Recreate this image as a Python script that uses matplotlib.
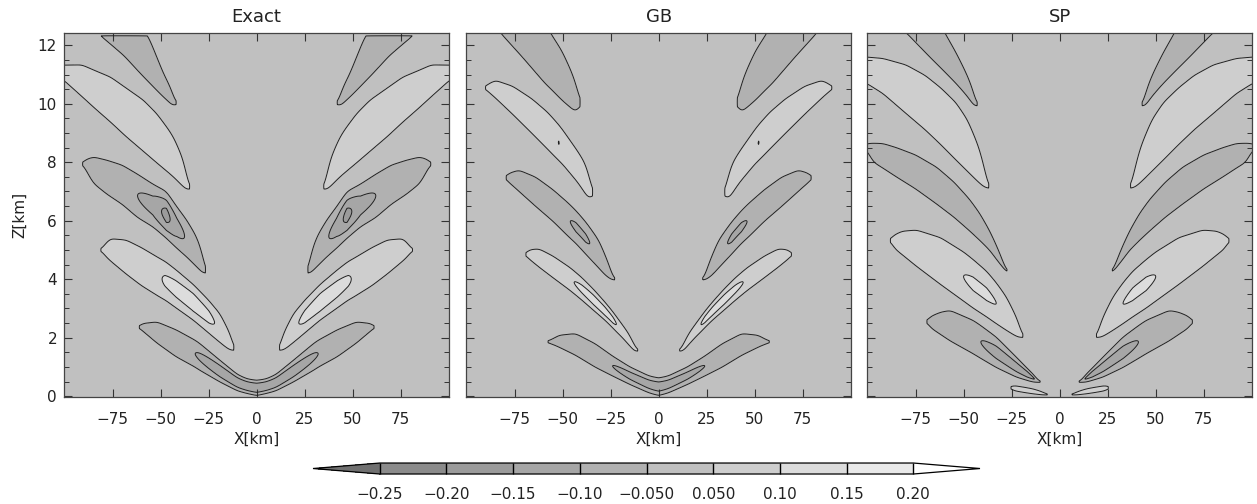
import numpy as np
import matplotlib.pyplot as plt
from matplotlib.colors import ListedColormap, BoundaryNorm

# ==============================
# Wave lobes, left half (the right half is the mirror image x -> -x)
# each row: x [km], lobe centre z [km], vertical half-thickness [km], peak amplitude
# ==============================
exact_upper_neg = [(-84, 12.9, 0.30, -0.07), (-81.5, 12.52, 0.18, -0.07), (-75, 12.39, 0.41, -0.07),
                   (-69, 12.27, 0.63, -0.07), (-60, 11.8, 0.80, -0.07), (-56.3, 11.52, 0.77, -0.07),
                   (-52, 11.03, 0.57, -0.07), (-48.5, 10.63, 0.40, -0.07), (-45, 10.3, 0.28, -0.07),
                   (-43.3, 10.09, 0.18, -0.07), (-42.5, 10.02, 0.08, -0.07), (-42, 10.0, 0.005, -0.07)]
exact_upper_pos = [(-101, 11.08, 0.24, 0.09), (-91, 10.79, 0.54, 0.09), (-84, 10.48, 0.65, 0.09),
                   (-76, 10.14, 0.77, 0.09), (-68, 9.71, 0.83, 0.09), (-59, 9.25, 0.875, 0.09),
                   (-52, 8.82, 0.84, 0.09), (-46, 8.39, 0.74, 0.09), (-43, 8.15, 0.67, 0.09),
                   (-40, 7.82, 0.54, 0.09), (-38, 7.6, 0.45, 0.09), (-36.5, 7.31, 0.24, 0.085),
                   (-35.5, 7.15, 0.11, 0.08), (-35, 7.1, 0.005, 0.08)]
exact_mid_neg = [(-90.5, 7.95, 0.005, -0.085), (-90.2, 7.95, 0.07, -0.085), (-89.8, 7.955, 0.115, -0.085),
                 (-88, 7.87, 0.24, -0.085), (-85, 7.73, 0.45, -0.09), (-78, 7.49, 0.58, -0.09),
                 (-70, 7.23, 0.67, -0.09), (-62, 6.85, 0.74, -0.10), (-54, 6.52, 0.73, -0.118),
                 (-47, 6.2, 0.80, -0.168), (-41.6, 5.77, 0.71, -0.118), (-36.4, 5.39, 0.63, -0.095),
                 (-31.2, 4.93, 0.51, -0.09), (-27.7, 4.48, 0.29, -0.085), (-26.9, 4.25, 0.06, -0.08),
                 (-26.6, 4.22, 0.005, -0.08)]
exact_low_pos = [(-81, 5.0, 0.005, 0.085), (-80.5, 5.0, 0.07, 0.085), (-78, 5.0, 0.26, 0.085),
                 (-76.3, 5.01, 0.375, 0.085), (-68, 4.76, 0.58, 0.09), (-60, 4.43, 0.65, 0.09),
                 (-50, 4.03, 0.66, 0.097), (-47.7, 3.95, 0.66, 0.106), (-42, 3.67, 0.65, 0.117),
                 (-33, 3.21, 0.61, 0.125), (-25, 2.72, 0.56, 0.112), (-22.5, 2.55, 0.53, 0.102),
                 (-19, 2.32, 0.49, 0.09), (-15, 1.95, 0.33, 0.085), (-13, 1.79, 0.23, 0.08),
                 (-12.1, 1.6, 0.05, 0.08), (-11.8, 1.58, 0.005, 0.08)]
exact_low_neg = [(-61.2, 2.36, 0.005, -0.075), (-60.5, 2.37, 0.08, -0.075), (-59.8, 2.365, 0.115, -0.075),
                 (-57, 2.3, 0.20, -0.075), (-52, 2.18, 0.36, -0.08), (-42, 1.81, 0.46, -0.09),
                 (-32, 1.45, 0.46, -0.10), (-30, 1.36, 0.46, -0.105), (-19, 0.85, 0.37, -0.13),
                 (-10, 0.46, 0.28, -0.14), (-5, 0.34, 0.25, -0.145), (0, 0.28, 0.26, -0.148)]

gb_upper_neg = [(-84, 12.9, 0.30, -0.075), (-82.3, 12.91, 0.49, -0.075), (-71, 12.6, 1.0, -0.075),
                (-58.9, 11.7, 1.02, -0.075), (-56.3, 11.47, 0.95, -0.075), (-50.3, 10.96, 0.84, -0.075),
                (-45, 10.43, 0.61, -0.075), (-43.3, 10.22, 0.48, -0.075), (-41.6, 10.08, 0.28, -0.075),
                (-41, 10.0, 0.08, -0.075), (-40.8, 10.0, 0.005, -0.075)]
gb_upper_pos = [(-90.2, 10.55, 0.005, 0.09), (-89.8, 10.55, 0.10, 0.09), (-88.4, 10.54, 0.14, 0.09),
                (-85, 10.5, 0.30, 0.09), (-76, 10.12, 0.48, 0.09), (-66, 9.58, 0.59, 0.09),
                (-58, 9.09, 0.63, 0.092), (-54, 8.81, 0.62, 0.095), (-52, 8.67, 0.61, 0.1006),
                (-50, 8.52, 0.59, 0.095), (-42, 7.83, 0.53, 0.09), (-38, 7.42, 0.51, 0.09),
                (-36.4, 7.15, 0.40, 0.09), (-34.7, 6.98, 0.17, 0.085), (-34.3, 6.9, 0.005, 0.085)]
gb_mid_neg = [(-79.4, 7.48, 0.005, -0.085), (-78.9, 7.47, 0.13, -0.085), (-77, 7.45, 0.19, -0.085),
              (-72.8, 7.37, 0.36, -0.085), (-64, 6.99, 0.50, -0.085), (-55, 6.52, 0.54, -0.088),
              (-47, 6.03, 0.57, -0.098), (-43, 5.78, 0.56, -0.106), (-38, 5.41, 0.55, -0.105),
              (-35, 5.17, 0.52, -0.098), (-31, 4.84, 0.47, -0.088), (-27.7, 4.46, 0.33, -0.085),
              (-26, 4.29, 0.24, -0.085), (-24.5, 4.09, 0.11, -0.08), (-23.3, 3.98, 0.02, -0.08),
              (-23, 3.98, 0.005, -0.08)]
gb_low_pos = [(-69, 4.85, 0.005, 0.085), (-68.5, 4.85, 0.12, 0.085), (-67.6, 4.85, 0.15, 0.085),
              (-62.4, 4.73, 0.31, 0.085), (-55, 4.42, 0.37, 0.09), (-46, 4.0, 0.39, 0.095),
              (-40, 3.67, 0.385, 0.11), (-34, 3.3, 0.36, 0.12), (-28, 2.91, 0.31, 0.12),
              (-24, 2.62, 0.28, 0.112), (-22, 2.46, 0.26, 0.10), (-19, 2.23, 0.22, 0.09),
              (-15.6, 1.95, 0.19, 0.085), (-12.1, 1.59, 0.09, 0.08), (-11.3, 1.55, 0.02, 0.08),
              (-11, 1.55, 0.005, 0.08)]
gb_low_neg = [(-57.6, 1.86, 0.005, -0.07), (-57.2, 1.86, 0.06, -0.07), (-55.5, 1.86, 0.08, -0.07),
              (-52, 1.88, 0.20, -0.075), (-43.3, 1.77, 0.37, -0.08), (-33, 1.39, 0.40, -0.09),
              (-24, 1.03, 0.34, -0.10), (-15, 0.7, 0.30, -0.115), (-5, 0.4, 0.29, -0.125),
              (0, 0.32, 0.30, -0.13)]

sp_upper_neg = [(-81, 12.9, 0.40, -0.07), (-79.7, 12.81, 0.39, -0.07), (-67.6, 12.5, 0.90, -0.07),
                (-59.8, 11.76, 0.67, -0.07), (-53.7, 11.2, 0.52, -0.07), (-48.5, 10.66, 0.37, -0.07),
                (-45, 10.22, 0.24, -0.07), (-44, 10.01, 0.14, -0.07), (-43.3, 9.95, 0.04, -0.07),
                (-43, 9.95, 0.005, -0.07)]
sp_upper_pos = [(-101, 11.16, 0.44, 0.09), (-92, 10.95, 0.60, 0.09), (-80, 10.5, 0.83, 0.09),
                (-70, 10.04, 0.93, 0.09), (-62, 9.58, 0.97, 0.09), (-54, 9.06, 0.98, 0.09),
                (-48, 8.57, 0.88, 0.09), (-44, 8.13, 0.70, 0.09), (-41.6, 7.85, 0.57, 0.09),
                (-39.9, 7.58, 0.40, 0.09), (-38.1, 7.31, 0.19, 0.085), (-37.3, 7.15, 0.05, 0.08),
                (-37, 7.12, 0.005, 0.08)]
sp_mid_neg = [(-101, 8.52, 0.08, -0.09), (-100.2, 8.52, 0.12, -0.09), (-97.1, 8.33, 0.32, -0.09),
              (-92, 8.22, 0.42, -0.09), (-85, 8.0, 0.50, -0.09), (-75, 7.67, 0.58, -0.09),
              (-64, 7.2, 0.63, -0.09), (-55, 6.72, 0.60, -0.09), (-47, 6.2, 0.54, -0.09),
              (-41.6, 5.79, 0.46, -0.09), (-36.4, 5.32, 0.33, -0.09), (-32, 4.81, 0.21, -0.085),
              (-29.5, 4.5, 0.10, -0.08), (-27.7, 4.27, 0.03, -0.08), (-27.4, 4.25, 0.005, -0.08)]
sp_low_pos = [(-88, 5.33, 0.005, 0.085), (-87.5, 5.33, 0.12, 0.085), (-85.8, 5.28, 0.24, 0.085),
              (-82, 5.24, 0.40, 0.09), (-74.5, 5.06, 0.62, 0.09), (-62, 4.62, 0.80, 0.09),
              (-50, 4.09, 0.84, 0.10), (-45, 3.84, 0.83, 0.106), (-38, 3.49, 0.78, 0.106),
              (-33, 3.18, 0.70, 0.10), (-27.7, 2.82, 0.57, 0.09), (-24, 2.5, 0.40, 0.09),
              (-21.7, 2.3, 0.28, 0.085), (-20, 2.1, 0.10, 0.08), (-19.4, 2.02, 0.02, 0.08),
              (-19.2, 2.02, 0.005, 0.08)]
sp_low_neg = [(-69, 2.55, 0.005, -0.075), (-68.5, 2.55, 0.10, -0.075), (-67, 2.53, 0.20, -0.075),
              (-62, 2.49, 0.38, -0.075), (-57, 2.41, 0.52, -0.075), (-45, 2.02, 0.57, -0.09),
              (-41, 1.85, 0.56, -0.10), (-33, 1.5, 0.52, -0.115), (-22.5, 0.99, 0.34, -0.12),
              (-17, 0.75, 0.21, -0.12), (-13.9, 0.62, 0.14, -0.105), (-11.5, 0.52, 0.05, -0.09),
              (-10.4, 0.48, 0.01, -0.09), (-10.2, 0.48, 0.005, -0.09)]
sp_ground_pos = [(-25.4, 0.29, 0.005, 0.07), (-25, 0.29, 0.08, 0.07), (-24, 0.275, 0.085, 0.07),
                 (-19, 0.22, 0.09, 0.07), (-14, 0.165, 0.085, 0.07), (-10, 0.11, 0.06, 0.07),
                 (-7, 0.06, 0.025, 0.07), (-6.3, 0.05, 0.005, 0.07)]

panel_titles = ['Exact', 'GB', 'SP']
panel_lobes = [
    [exact_upper_neg, exact_upper_pos, exact_mid_neg, exact_low_pos, exact_low_neg],
    [gb_upper_neg, gb_upper_pos, gb_mid_neg, gb_low_pos, gb_low_neg],
    [sp_upper_neg, sp_upper_pos, sp_mid_neg, sp_low_pos, sp_low_neg, sp_ground_pos],
]
z_top = [12.33, None, None]   # top of the model domain (Exact only)

levels = [-0.25, -0.20, -0.15, -0.10, -0.05, 0.05, 0.10, 0.15, 0.20]
level_labels = ['\u22120.25', '\u22120.20', '\u22120.15', '\u22120.10', '\u22120.050',
                '0.050', '0.10', '0.15', '0.20']
grey_under = '#707070'
greys = ['#8b8b8b', '#9b9b9b', '#a6a6a6', '#b1b1b1', '#c0c0c0', '#cecece', '#dcdcdc', '#e9e9e9']
grey_over = '#ffffff'

# ==============================
# Build the fields
# ==============================
x = np.linspace(-101, 101, 809)
z = np.linspace(-0.05, 12.5, 628)
XX, ZZ = np.meshgrid(x, z)

dx = x[1] - x[0]
kx = np.arange(-12, 13) * dx
kernel = np.exp(-0.5 * (kx / 1.4) ** 2)
kernel /= kernel.sum()


def smooth(v):
    pad = len(kernel) // 2
    vp = np.concatenate([np.full(pad, v[0]), v, np.full(pad, v[-1])])
    return np.convolve(vp, kernel, mode='valid')


def lobe_field(rows, xx, zz):
    lx, zc, h, a = np.asarray(rows, float).T
    zc1 = smooth(np.interp(x, lx, zc))
    h1 = smooth(np.interp(x, lx, h))
    a1 = np.interp(x, lx, a)
    # |f| equals 0.05 exactly at zc +- h
    k = np.log(np.maximum(np.abs(a1) / 0.05, 1.05))
    f = a1 * np.exp(-k * ((zz - zc1) / h1) ** 2)
    f[:, (x < lx[0]) | (x > lx[-1])] = 0.0
    return f


def build_field(lobes, top):
    total = np.zeros(XX.shape)
    for rows in lobes:
        mirrored = [(-px, pz, hh, aa) for px, pz, hh, aa in rows[::-1]]
        for rr in (rows, mirrored):
            f = lobe_field(rr, XX, ZZ)
            total = np.where(np.abs(f) > np.abs(total), f, total)
    if top is not None:
        total[ZZ > top] = 0.0
    return total


fields = [build_field(l, t) for l, t in zip(panel_lobes, z_top)]

# ==============================
# Plot
# ==============================
plt.rcParams['font.family'] = 'DejaVu Sans'
cmap = ListedColormap(greys)
cmap.set_under(grey_under)
cmap.set_over(grey_over)
norm = BoundaryNorm(levels, cmap.N)

fig = plt.figure(figsize=(12.57, 5.04), dpi=100)
lefts = [0.0509, 0.3707, 0.6897]
axes = [fig.add_axes([l, 0.2123, 0.3066, 0.7222]) for l in lefts]

for i, ax in enumerate(axes):
    cf = ax.contourf(XX, ZZ, fields[i], levels=levels, cmap=cmap, norm=norm, extend='both')
    ax.contour(XX, ZZ, fields[i], levels=levels, colors='#202020', linewidths=0.7,
               linestyles='solid')
    ax.set_xlim(-100.3, 100.3)
    ax.set_ylim(-0.03, 12.42)
    ax.set_facecolor(greys[4])
    ax.set_title(panel_titles[i], fontsize=13, pad=8, color='#222222')
    ax.set_xticks([-75, -50, -25, 0, 25, 50, 75])
    ax.set_yticks(np.arange(0, 13, 2))
    ax.set_yticks(np.arange(0, 12.5, 0.5), minor=True)
    ax.tick_params(which='both', direction='in', top=True, right=True, colors='#333333',
                   labelcolor='#222222', labelsize=11)
    ax.tick_params(which='major', length=6, width=0.8)
    ax.tick_params(which='minor', length=3.5, width=0.7)
    ax.tick_params(axis='x', pad=11)
    ax.tick_params(axis='y', pad=5)
    ax.set_xlabel('X[km]', fontsize=11, labelpad=3, color='#222222')
    for s in ax.spines.values():
        s.set_color('#444444')
        s.set_linewidth(0.9)
    if i == 0:
        ax.set_ylabel('Z[km]', fontsize=11, labelpad=8, color='#222222')
    else:
        ax.set_yticklabels([])

# horizontal colour bar; the pointed ends sit inside the axes box
cax = fig.add_axes([313 / 1257, 0.0595, 667 / 1257, 0.0218])
cb = fig.colorbar(cf, cax=cax, orientation='horizontal', extend='both', extendfrac=0.125,
                  drawedges=True, ticks=levels)
cb.ax.set_xticklabels(level_labels)
cb.ax.tick_params(length=0, pad=9, labelsize=11, labelcolor='#222222')
cb.outline.set_linewidth(0.9)
cb.dividers.set_linewidth(1.0)

fig.savefig('out.png', dpi=100)
